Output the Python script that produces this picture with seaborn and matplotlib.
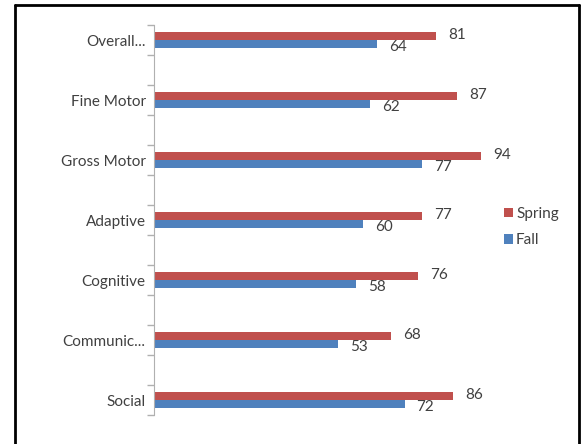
import matplotlib
matplotlib.use("Agg")
import matplotlib.pyplot as plt
import matplotlib.transforms as mtransforms
from matplotlib.lines import Line2D
import seaborn as sns
import numpy as np
import pandas as pd

# data
categories = ["Overall...", "Fine Motor", "Gross Motor", "Adaptive",
              "Cognitive", "Communic...", "Social"]
spring = [81, 87, 94, 77, 76, 68, 86]
fall = [64, 62, 77, 60, 58, 53, 72]
seasons = ["Spring", "Fall"]
colors = {"Spring": "#C0504D", "Fall": "#4F81BD"}

df = pd.DataFrame({
    "category": categories * 2,
    "score": spring + fall,
    "season": ["Spring"] * len(categories) + ["Fall"] * len(categories),
})

sns.set_style("white")
plt.rcParams["font.family"] = ["Lato", "DejaVu Sans"]

W, H = 583, 444
fig = plt.figure(figsize=(W / 100, H / 100), dpi=100)
ax = fig.add_axes([154 / W, 1 - 415 / H, 348 / W, 390 / H])

sns.barplot(data=df, y="category", x="score", hue="season",
            order=categories, hue_order=seasons, palette=colors,
            orient="h", width=0.27, saturation=1, linewidth=0, ax=ax)

n = len(categories)
ax.set_xlim(0, 100)
ax.set_ylim(n - 0.75, -0.25)
ax.set_xlabel("")
ax.set_ylabel("")
ax.set_xticks([])
ax.tick_params(axis="y", which="major", length=0, pad=6,
               labelsize=11, labelcolor="#404040")
ax.set_yticks(np.arange(-0.25, n - 0.5, 0.5), minor=True)
ax.tick_params(axis="y", which="minor", left=True, length=5,
               color="#B0B0B0", width=1)
for s in ["top", "right", "bottom"]:
    ax.spines[s].set_visible(False)
ax.spines["left"].set_color("#B0B0B0")

# value labels
for cont, season in zip(ax.containers, seasons):
    dy = 1 if season == "Spring" else -3
    off = mtransforms.offset_copy(ax.transData, fig=fig, x=12, y=dy, units="dots")
    for bar in cont:
        w = bar.get_width()
        yc = bar.get_y() + bar.get_height() / 2
        ax.text(w, yc, f"{w:.0f}", transform=off, ha="left", va="center",
                fontsize=11, color="#404040")

leg = ax.legend(loc="center left", bbox_to_anchor=(490 / W, 1 - 227 / H),
                bbox_transform=fig.transFigure, frameon=False,
                fontsize=11, handlelength=0.6, handleheight=0.6,
                handletextpad=0.2, labelspacing=0.8)
for t in leg.get_texts():
    t.set_color("#404040")

# frame round the picture (bottom edge is cut off in the reference)
x0, x1, y0 = 15 / W, 579 / W, 1 - 5 / H
for xs, ys in [([x0, x0], [0, y0]), ([x0, x1], [y0, y0]), ([x1, x1], [y0, 0])]:
    fig.add_artist(Line2D(xs, ys, transform=fig.transFigure,
                          color="black", linewidth=2))

fig.savefig("out.png", dpi=100)
